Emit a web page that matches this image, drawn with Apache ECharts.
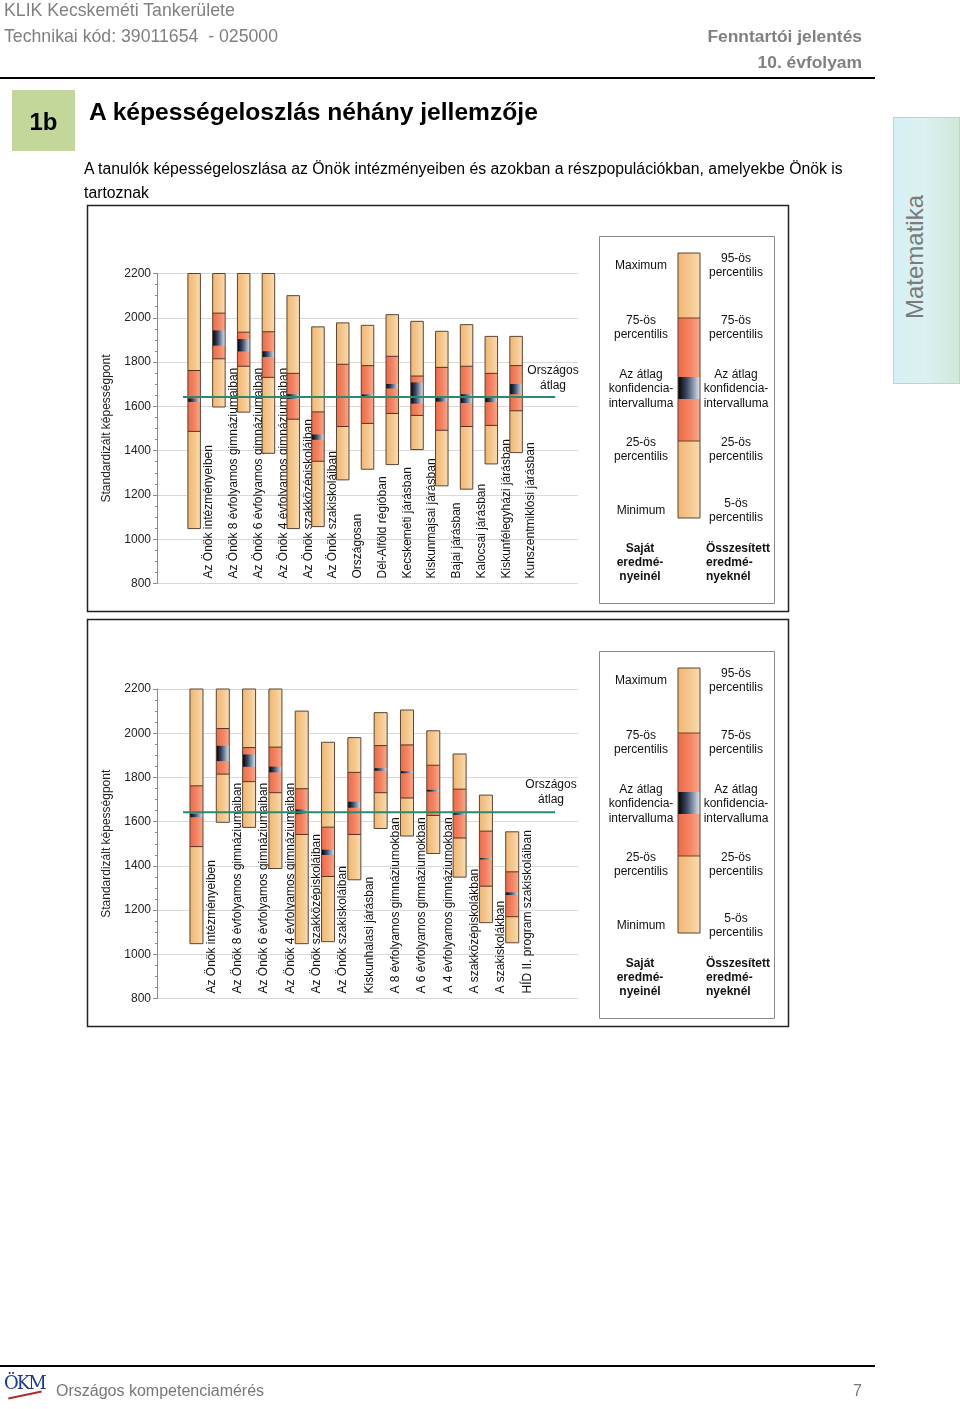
<!DOCTYPE html>
<html>
<head>
<meta charset="utf-8">
<script src="https://cdn.jsdelivr.net/npm/echarts@6/dist/echarts.min.js"></script>
<style>
  html, body { margin:0; padding:0; background:#fff; }
  body { width:960px; height:1409px; position:relative; overflow:hidden; font-family: Arial, "Liberation Sans", sans-serif; }
  #chart { position:absolute; left:0; top:0; width:960px; height:1409px; z-index:1; }
  .t { position:absolute; z-index:2; white-space:pre; pointer-events:none; }
</style>
</head>
<body>
<div id="chart"></div>

<div class="t" style="left:4px;top:0;font-size:17.7px;line-height:20px;color:#808080;">KLIK Kecskeméti Tankerülete</div>
<div class="t" style="left:4px;top:26px;font-size:17.7px;line-height:20px;color:#808080;">Technikai kód: 39011654  - 025000</div>
<div class="t" style="right:98px;top:26px;font-size:17.4px;line-height:20px;color:#808080;font-weight:bold;text-align:right;">Fenntartói jelentés</div>
<div class="t" style="right:98px;top:52px;font-size:17.4px;line-height:20px;color:#808080;font-weight:bold;text-align:right;">10. évfolyam</div>
<div class="t" style="left:0;top:77px;width:875px;height:2px;background:#000;"></div>

<div class="t" style="left:12px;top:90px;width:63px;height:61px;background:#c4d79b;"></div>
<div class="t" style="left:12px;top:91px;width:63px;height:61px;line-height:61px;text-align:center;font-size:24px;font-weight:bold;color:#000;">1b</div>
<div class="t" style="left:89px;top:97px;font-size:24.6px;line-height:30px;font-weight:bold;color:#000;">A képességeloszlás néhány jellemzője</div>
<div class="t" style="left:84px;top:157px;font-size:15.8px;line-height:24px;color:#000;">A tanulók képességeloszlása az Önök intézményeiben és azokban a részpopulációkban, amelyekbe Önök is
tartoznak</div>

<div class="t" style="left:893px;top:117px;width:67px;height:267px;background:linear-gradient(90deg,#d6f0f6 0%,#dcf1f1 45%,#cfe9d9 100%);border:1px solid #b6d9c8;box-sizing:border-box;"></div>
<div class="t" style="left:915px;top:257px;width:0;height:0;">
  <div style="position:absolute;left:0;top:0;transform:translate(-50%,-50%) rotate(-90deg);font-size:24px;line-height:28px;color:#7b7b7b;">Matematika</div>
</div>

<div class="t" style="left:0;top:1365px;width:875px;height:2px;background:#000;"></div>
<div class="t" style="left:4px;top:1372px;font-family:'DejaVu Serif',serif;font-size:18px;line-height:22px;color:#1d3c8c;letter-spacing:-2px;">ÖKM</div>
<div class="t" style="left:8px;top:1394px;width:34px;height:2px;background:#b02a2a;transform:rotate(-12deg);"></div>
<div class="t" style="left:56px;top:1381px;font-size:16px;line-height:20px;color:#777;">Országos kompetenciamérés</div>
<div class="t" style="right:98px;top:1381px;font-size:16px;line-height:20px;color:#777;">7</div>

<script>
// ---------------- DATA ----------------
const yTicks = [800, 1000, 1200, 1400, 1600, 1800, 2000, 2200];
const nationalAverage = 1642;

const categories1 = [
  "Az Önök intézményeiben",
  "Az Önök 8 évfolyamos gimnáziumaiban",
  "Az Önök 6 évfolyamos gimnáziumaiban",
  "Az Önök 4 évfolyamos gimnáziumaiban",
  "Az Önök szakközépiskoláiban",
  "Az Önök szakiskoláiban",
  "Országosan",
  "Dél-Alföld régióban",
  "Kecskeméti járásban",
  "Kiskunmajsai járásban",
  "Bajai járásban",
  "Kalocsai járásban",
  "Kiskunfélegyházi járásban",
  "Kunszentmiklósi járásban"
];
const low1  = [1048, 1597, 1574, 1388, 1048, 1057, 1268, 1316, 1337, 1405, 1241, 1226, 1340, 1391];
const q25_1 = [1487, 1815, 1781, 1731, 1542, 1352, 1509, 1523, 1568, 1559, 1492, 1509, 1514, 1580];
const ciLo1 = [1620, 1874, 1848, 1823, 1634, 1449, 1640, 1644, 1681, 1612, 1621, 1615, 1619, 1655];
const ciHi1 = [1636, 1943, 1904, 1849, 1655, 1473, 1647, 1654, 1701, 1708, 1645, 1655, 1645, 1701];
const q75_1 = [1762, 2021, 1935, 1937, 1749, 1575, 1790, 1784, 1826, 1737, 1776, 1781, 1749, 1784];
const high1 = [2200, 2200, 2200, 2200, 2100, 1959, 1977, 1966, 2014, 1984, 1939, 1969, 1916, 1916];

const categories2 = [
  "Az Önök intézményeiben",
  "Az Önök 8 évfolyamos gimnáziumaiban",
  "Az Önök 6 évfolyamos gimnáziumaiban",
  "Az Önök 4 évfolyamos gimnáziumaiban",
  "Az Önök szakközépiskoláiban",
  "Az Önök szakiskoláiban",
  "Kiskunhalasi járásban",
  "A 8 évfolyamos gimnáziumokban",
  "A 6 évfolyamos gimnáziumokban",
  "A 4 évfolyamos gimnáziumokban",
  "A szakközépiskolákban",
  "A szakiskolákban",
  "HÍD II. program szakiskoláiban"
];
const low2  = [1048, 1597, 1574, 1388, 1048, 1057, 1337, 1569, 1535, 1456, 1349, 1143, 1052];
const q25_2 = [1487, 1815, 1781, 1731, 1542, 1352, 1542, 1731, 1707, 1628, 1526, 1308, 1170];
const ciLo2 = [1620, 1874, 1848, 1823, 1634, 1449, 1663, 1830, 1819, 1736, 1631, 1429, 1268];
const ciHi2 = [1636, 1943, 1904, 1849, 1655, 1473, 1690, 1842, 1828, 1744, 1640, 1435, 1280];
const q75_2 = [1762, 2021, 1935, 1937, 1749, 1575, 1823, 1944, 1947, 1855, 1747, 1557, 1373];
const high2 = [2200, 2200, 2200, 2200, 2100, 1959, 1980, 2093, 2105, 2011, 1906, 1720, 1554];

const legendLeft = [
  ["Maximum"], ["75-ös", "percentilis"], ["Az átlag", "konfidencia-", "intervalluma"],
  ["25-ös", "percentilis"], ["Minimum"]
];
const legendRight = [
  ["95-ös", "percentilis"], ["75-ös", "percentilis"], ["Az átlag", "konfidencia-", "intervalluma"],
  ["25-ös", "percentilis"], ["5-ös", "percentilis"]
];
const legendFootLeft = ["Saját", "eredmé-", "nyeinél"];
const legendFootRight = ["Összesített", "eredmé-", "nyeknél"];
const nationalLabel = "Országos\nátlag";
const yAxisTitle = "Standardizált képességpont";

// ---------------- STYLE ----------------
const FONT = 'Arial, "Liberation Sans", sans-serif';
const LG = echarts.graphic.LinearGradient;
const lightFill = () => new LG(0, 0, 1, 0, [{offset:0,color:'#F1B772'},{offset:0.55,color:'#F5C98F'},{offset:1,color:'#F9DCB4'}]);
const redFill   = () => new LG(0, 0, 1, 0, [{offset:0,color:'#EF6A47'},{offset:0.55,color:'#F38664'},{offset:1,color:'#F7AA8C'}]);
const ciFill    = () => new LG(0, 0, 1, 0, [{offset:0,color:'#000000'},{offset:0.4,color:'#3d4a66'},{offset:1,color:'#dfe9f4'}]);
const EDGE = '#5a4534';

function buildRows(lo, q1, cl, ch, q3, hi) {
  return lo.map((v, i) => [i, v, q1[i], cl[i], ch[i], q3[i], hi[i]]);
}

function makeRender(cats, barW) {
  return function (params, api) {
    const i = api.value(0);
    const x = api.coord([i, 800])[0];
    const y = v => api.coord([i, v])[1];
    const lo = api.value(1), q1 = api.value(2), cl = api.value(3), ch = api.value(4), q3 = api.value(5), hi = api.value(6);
    const x0 = x - barW / 2;
    const seg = (a, b, fill) => ({ type:'rect', shape:{ x:x0, y:y(b), width:barW, height:y(a) - y(b) }, style:{ fill: fill } });
    const hline = (v) => ({ type:'line', shape:{ x1:x0, y1:y(v), x2:x0 + barW, y2:y(v) }, style:{ stroke:'#5b2e1e', lineWidth:1 } });
    return {
      type:'group',
      children: [
        seg(lo, q1, lightFill()),
        seg(q1, q3, redFill()),
        seg(q3, hi, lightFill()),
        seg(cl, ch, ciFill()),
        hline(q1), hline(q3),
        { type:'rect', shape:{ x:x0, y:y(hi), width:barW, height:y(lo) - y(hi) }, style:{ fill:null, stroke:EDGE, lineWidth:1 } },
        { type:'text', x: x + 15, y: y(800) - 5, rotation: Math.PI / 2,
          style:{ text: cats[i], fontSize:12, fontFamily:FONT, fill:'#111', align:'left', verticalAlign:'middle' } }
      ]
    };
  };
}

function yAxisDef(gridIndex) {
  return {
    type:'value', gridIndex: gridIndex, min:800, max:2200, interval:200,
    name: yAxisTitle, nameLocation:'middle', nameGap:44,
    nameTextStyle:{ fontSize:12, fontFamily:FONT, color:'#222' },
    axisLine:{ show:true, onZero:false, lineStyle:{ color:'#8c8c8c', width:1 } },
    axisTick:{ show:true, length:4, lineStyle:{ color:'#8c8c8c' } },
    minorTick:{ show:true, splitNumber:4, length:2, lineStyle:{ color:'#8c8c8c' } },
    axisLabel:{ fontSize:12, fontFamily:FONT, color:'#222', margin:6,
      formatter: v => (yTicks.indexOf(v) >= 0 ? String(v) : '') },
    splitLine:{ show:true, lineStyle:{ color:'#d9d9d9', width:1 } }
  };
}

function legendGraphics(dy) {
  const els = [];
  els.push({ type:'rect', shape:{ x:599.5, y:236.5 + dy, width:175, height:367 }, style:{ fill:'#fff', stroke:'#8a8a8a', lineWidth:1 } });
  const bx = 678, bw = 22;
  const seg = (yt, yb, fill) => ({ type:'rect', shape:{ x:bx, y:yt + dy, width:bw, height:yb - yt }, style:{ fill: fill } });
  els.push(seg(253, 318, lightFill()));
  els.push(seg(318, 441, redFill()));
  els.push(seg(441, 518, lightFill()));
  els.push(seg(377, 399, ciFill()));
  els.push({ type:'line', shape:{ x1:bx, y1:318 + dy, x2:bx + bw, y2:318 + dy }, style:{ stroke:'#7a3a26', lineWidth:1 } });
  els.push({ type:'line', shape:{ x1:bx, y1:441 + dy, x2:bx + bw, y2:441 + dy }, style:{ stroke:'#7a3a26', lineWidth:1 } });
  els.push({ type:'rect', shape:{ x:bx, y:253 + dy, width:bw, height:265 }, style:{ fill:null, stroke:EDGE, lineWidth:1 } });
  const leftCenters = [266, 327.5, 389, 450, 511];
  const rightCenters = [266, 327.5, 389, 450, 511];
  const lh = 14.3;
  function block(lines, cx, cy, bold, align) {
    const n = lines.length;
    lines.forEach((s, k) => {
      els.push({ type:'text', x: cx, y: cy + dy + (k - (n - 1) / 2) * lh,
        style:{ text:s, fontSize:12, fontFamily:FONT, fontWeight: bold ? 'bold' : 'normal', fill:'#111',
                align: align || 'center', verticalAlign:'middle' } });
    });
  }
  legendLeft.forEach((l, k) => block(l, 641, leftCenters[k], false));
  legendRight.forEach((l, k) => block(l, 736, rightCenters[k], false));
  block(legendFootLeft, 640, 562.5, true);
  block(legendFootRight, 706, 562.5, true, 'left');
  return els;
}

const graphics = [
  { type:'rect', z:-10, shape:{ x:87.5, y:205.5, width:701, height:406 }, style:{ fill:'#fff', stroke:'#222', lineWidth:1.5 } },
  { type:'rect', z:-10, shape:{ x:87.5, y:619.5, width:701, height:407 }, style:{ fill:'#fff', stroke:'#222', lineWidth:1.5 } },
  { type:'text', x:553, y:378, style:{ text: nationalLabel, fontSize:12, fontFamily:FONT, fill:'#111', align:'center', verticalAlign:'middle', lineHeight:15 } },
  { type:'text', x:551, y:792.5, style:{ text: nationalLabel, fontSize:12, fontFamily:FONT, fill:'#111', align:'center', verticalAlign:'middle', lineHeight:15 } }
].concat(legendGraphics(0), legendGraphics(415));

const chart = echarts.init(document.getElementById('chart'), null, { renderer:'canvas' });
chart.setOption({
  backgroundColor:'transparent',
  animation:false,
  graphic: graphics,
  grid: [
    { left:157, top:273.5, width:421, height:310 },
    { left:157, top:689, width:421, height:309.5 }
  ],
  xAxis: [
    { type:'value', gridIndex:0, min:-1.5, max:15.5, show:false },
    { type:'value', gridIndex:1, min:-1.5, max:14.5, show:false }
  ],
  yAxis: [ yAxisDef(0), yAxisDef(1) ],
  series: [
    { type:'custom', xAxisIndex:0, yAxisIndex:0, z:2, clip:false,
      renderItem: makeRender(categories1, 12.5),
      data: buildRows(low1, q25_1, ciLo1, ciHi1, q75_1, high1) },
    { type:'custom', xAxisIndex:1, yAxisIndex:1, z:2, clip:false,
      renderItem: makeRender(categories2, 13),
      data: buildRows(low2, q25_2, ciLo2, ciHi2, q75_2, high2) },
    { type:'line', xAxisIndex:0, yAxisIndex:0, z:5, showSymbol:false, silent:true,
      lineStyle:{ color:'#2a8a6e', width:2 },
      data: [[-0.45, nationalAverage], [14.58, nationalAverage]] },
    { type:'line', xAxisIndex:1, yAxisIndex:1, z:5, showSymbol:false, silent:true,
      lineStyle:{ color:'#2a8a6e', width:2 },
      data: [[-0.51, nationalAverage], [13.63, nationalAverage]] }
  ]
});
</script>
</body>
</html>
